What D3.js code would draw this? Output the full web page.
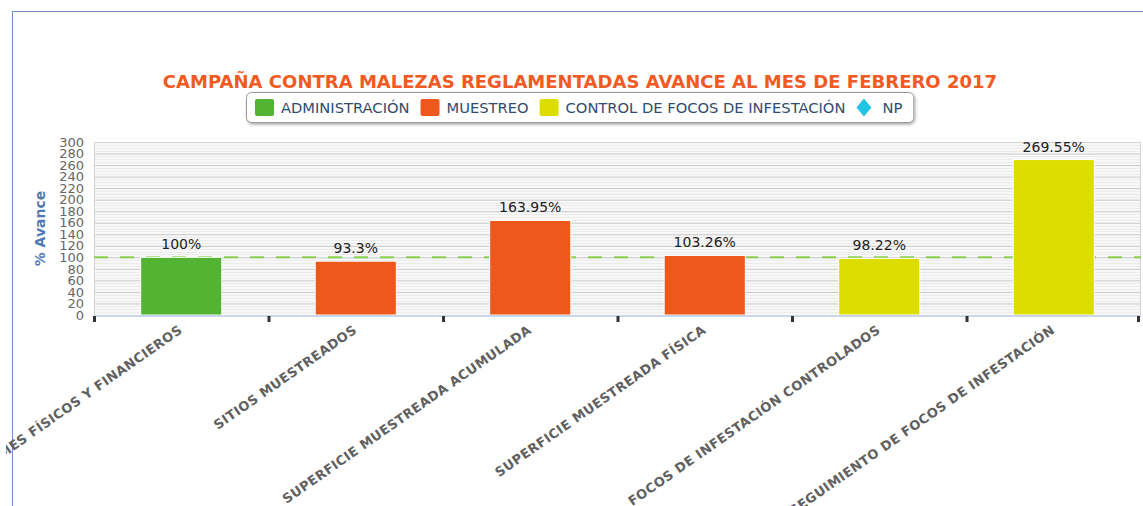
<!DOCTYPE html>
<html>
<head>
<meta charset="utf-8">
<script src="https://cdn.jsdelivr.net/npm/d3@7"></script>
<style>
  html, body { margin: 0; padding: 0; background: #fff; overflow: hidden; }
  svg { display: block; }
</style>
</head>
<body>
<svg id="chart" width="1143" height="506"></svg>
<script>
const categories = [
    "INFORMES FÍSICOS Y FINANCIEROS",
    "SITIOS MUESTREADOS",
    "SUPERFICIE MUESTREADA ACUMULADA",
    "SUPERFICIE MUESTREADA FÍSICA",
    "FOCOS DE INFESTACIÓN CONTROLADOS",
    "SEGUIMIENTO DE FOCOS DE INFESTACIÓN",
];
const values = [100, 93.3, 163.95, 103.26, 98.22, 269.55];
const valueLabels = ["100%", "93.3%", "163.95%", "103.26%", "98.22%", "269.55%"];
// series each bar belongs to
const barSeries = [0, 1, 1, 1, 2, 2];
const seriesNames = ["ADMINISTRACIÓN", "MUESTREO", "CONTROL DE FOCOS DE INFESTACIÓN", "NP"];
const seriesColors = ["#52b432", "#ee581c", "#dddd00", "#22c3e3"];
const yTicks = d3.range(0, 301, 20);
const targetLine = 100;

const svg = d3.select("#chart");
const W = 1143, H = 506;

// outer frame (blue border, only left/top visible)
svg.append("rect")
    .attr("x", 12.5).attr("y", 11.5)
    .attr("width", 1200).attr("height", 600)
    .attr("fill", "none")
    .attr("stroke", "#6f8fc7")
    .attr("stroke-width", 1);

const margin = { left: 94, right: 2, top: 142, bottom: 191 };
const innerW = W - margin.left - margin.right;
const innerH = H - margin.top - margin.bottom;

const x = d3.scaleBand()
    .domain(categories)
    .range([0, innerW])
    .paddingInner(0.535)
    .paddingOuter(0.2675);

const y = d3.scaleLinear()
    .domain([0, 300])
    .range([innerH, 0]);

const g = svg.append("g")
    .attr("transform", `translate(${margin.left},${margin.top})`);

// plot background
g.append("rect")
    .attr("width", innerW).attr("height", innerH)
    .attr("fill", "#f8f8f8");

// minor stripes
g.append("g").selectAll("line")
    .data(d3.range(0, 300, 5).filter((v) => v % 20 !== 0))
    .join("line")
    .attr("x1", 0).attr("x2", innerW)
    .attr("y1", (d) => Math.round(y(d)) + 0.5)
    .attr("y2", (d) => Math.round(y(d)) + 0.5)
    .attr("stroke", "#ebebeb");

// major grid
const gridG = g.append("g").call(
    d3.axisLeft(y).tickValues(yTicks).tickSize(-innerW).tickFormat("")
);
gridG.select(".domain").remove();
gridG.selectAll("line").attr("stroke", "#c9c9c9");

// plot border
g.append("rect")
    .attr("x", 0.5).attr("y", 0.5)
    .attr("width", innerW - 1).attr("height", innerH)
    .attr("fill", "none")
    .attr("stroke", "#d4d4d4");

// dashed 100% line
g.append("line")
    .attr("x1", 0).attr("x2", innerW)
    .attr("y1", y(targetLine)).attr("y2", y(targetLine))
    .attr("stroke", "#8ccf4d")
    .attr("stroke-width", 2)
    .attr("stroke-dasharray", "14,12");

// bars
g.selectAll(".bar")
    .data(values)
    .join("rect")
    .attr("class", "bar")
    .attr("x", (d, i) => x(categories[i]))
    .attr("y", (d) => y(d))
    .attr("width", x.bandwidth())
    .attr("height", (d) => innerH - y(d))
    .attr("fill", (d, i) => seriesColors[barSeries[i]])
    .attr("stroke", "#fff")
    .attr("stroke-width", 1);

// value labels
g.selectAll(".val")
    .data(values)
    .join("text")
    .attr("class", "val")
    .attr("x", (d, i) => x(categories[i]) + x.bandwidth() / 2)
    .attr("y", (d) => y(d) - 8)
    .attr("text-anchor", "middle")
    .style("font-family", "'DejaVu Sans', sans-serif")
    .style("font-size", "14px")
    .style("fill", "#222")
    .text((d, i) => valueLabels[i]);

// x axis line + tick marks at category boundaries
g.append("line")
    .attr("x1", 0).attr("x2", innerW)
    .attr("y1", innerH + 1).attr("y2", innerH + 1)
    .attr("stroke", "#ccd6eb")
    .attr("stroke-width", 2);

const step = x.step();
const bounds = d3.range(categories.length + 1).map((i) =>
    i < categories.length
        ? x(categories[i]) + x.bandwidth() / 2 - step / 2
        : x(categories[i - 1]) + x.bandwidth() / 2 + step / 2
);
g.selectAll(".tk")
    .data(bounds)
    .join("rect")
    .attr("class", "tk")
    .attr("x", (d) => Math.min(d, innerW - 3) - 1)
    .attr("y", innerH + 1)
    .attr("width", 3)
    .attr("height", 6)
    .attr("fill", "#333");

// y tick labels
g.selectAll(".ytl")
    .data(yTicks)
    .join("text")
    .attr("class", "ytl")
    .attr("x", -10)
    .attr("y", (d) => y(d))
    .attr("dy", "0.36em")
    .attr("text-anchor", "end")
    .style("font-family", "'DejaVu Sans', sans-serif")
    .style("font-size", "13px")
    .style("fill", "#666")
    .text((d) => d);

// y axis title
svg.append("text")
    .attr("transform", `translate(45,${margin.top + innerH / 2}) rotate(-90)`)
    .attr("text-anchor", "middle")
    .style("font-family", "'DejaVu Sans', sans-serif")
    .style("font-size", "14px")
    .style("font-weight", "bold")
    .style("fill", "#4f7ab3")
    .text("% Avance");

// x category labels (clipped at frame's left side)
svg.append("clipPath").attr("id", "xclip")
    .append("rect").attr("x", 6).attr("y", 0).attr("width", W).attr("height", H);

svg.append("g").attr("clip-path", "url(#xclip)")
    .selectAll(".xl")
    .data(categories)
    .join("text")
    .attr("class", "xl")
    .attr("transform", (d) =>
        `translate(${margin.left + x(d) + x.bandwidth() / 2 + 2},${margin.top + innerH + 17}) rotate(-35)`)
    .attr("text-anchor", "end")
    .style("font-family", "'DejaVu Sans', sans-serif")
    .style("font-size", "13px")
    .style("letter-spacing", "0.4px")
    .style("font-weight", "bold")
    .style("fill", "#606060")
    .text((d) => d);

// title
const title = svg.append("text")
    .attr("x", 580)
    .attr("y", 88)
    .attr("text-anchor", "middle")
    .style("font-family", "'DejaVu Sans', sans-serif")
    .style("font-size", "17px")
    .style("font-weight", "bold")
    .style("fill", "#f15a22")
    .text("CAMPAÑA CONTRA MALEZAS REGLAMENTADAS AVANCE AL MES DE FEBRERO 2017");
const tw = title.node().getComputedTextLength();
title.style("font-size", (17 * 835 / tw).toFixed(2) + "px");

// legend
const legend = svg.append("g");
const defs = svg.append("defs");
const flt = defs.append("filter").attr("id", "shadow")
    .attr("x", "-5%").attr("y", "-20%").attr("width", "110%").attr("height", "160%");
flt.append("feDropShadow")
    .attr("dx", 1).attr("dy", 1.5).attr("stdDeviation", 1.5)
    .attr("flood-color", "#000").attr("flood-opacity", 0.35);

const legendBox = legend.append("rect")
    .attr("x", 246.5).attr("y", 92.5)
    .attr("height", 30)
    .attr("rx", 5)
    .attr("fill", "#fff")
    .attr("stroke", "#999")
    .attr("stroke-width", 1)
    .attr("filter", "url(#shadow)");

let lx = 255;
seriesNames.forEach((name, i) => {
    if (i < 3) {
        legend.append("rect")
            .attr("x", lx).attr("y", 99)
            .attr("width", 19).attr("height", 17)
            .attr("rx", 2)
            .attr("fill", seriesColors[i]);
    } else {
        legend.append("path")
            .attr("d", `M${lx + 7.5},98.5 L${lx + 15},107.5 L${lx + 7.5},116.5 L${lx},107.5 Z`)
            .attr("fill", seriesColors[i]);
    }
    const off = 26;
    const t = legend.append("text")
        .attr("x", lx + off)
        .attr("y", 113)
        .style("font-family", "'DejaVu Sans', sans-serif")
        .style("font-size", "14.7px")
        .style("fill", "#2f4c70")
        .text(name);
    lx += off + t.node().getComputedTextLength() + 11;
});
legendBox.attr("width", lx - 246);
</script>
</body>
</html>
